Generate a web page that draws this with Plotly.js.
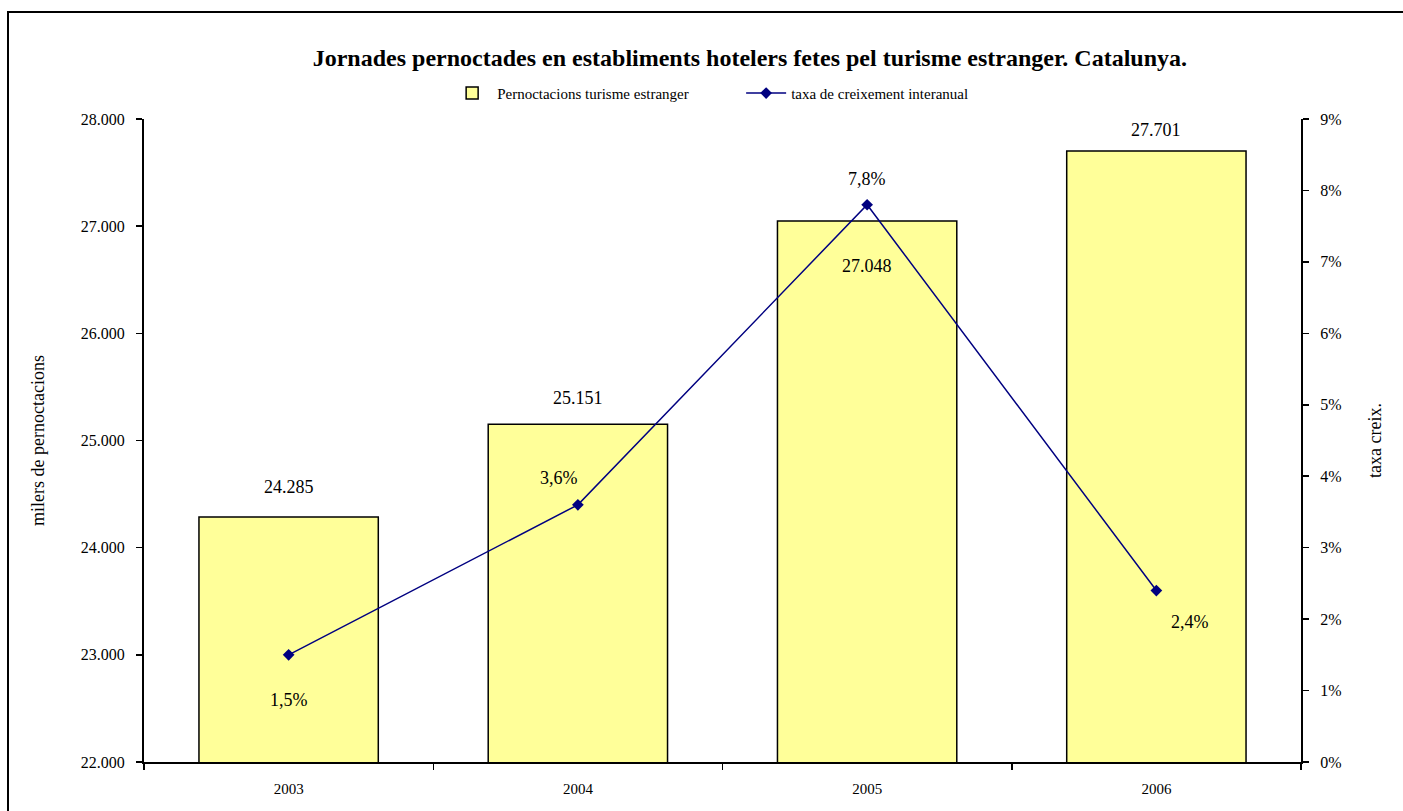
<!DOCTYPE html>
<html>
<head>
<meta charset="utf-8">
<script src="https://cdn.plot.ly/plotly-3.0.1.min.js"></script>
<style>
  html, body { margin: 0; padding: 0; background: #fff; }
  #wrap { position: relative; width: 1403px; height: 811px; overflow: hidden; }
  #chart { position: absolute; left: 0; top: 0; width: 1403px; height: 811px; }
  #frame { position: absolute; left: 7px; top: 11px; width: 1500px; height: 900px;
           border-left: 2px solid #000; border-top: 2px solid #000; pointer-events: none; }
</style>
</head>
<body>
<div id="wrap">
  <div id="chart"></div>
  <div id="frame"></div>
</div>
<script>
// ---- data ----
const years = ['2003', '2004', '2005', '2006'];
const pernoctacions = [24285, 25151, 27048, 27701];      // milers
const taxaCreixement = [0.015, 0.036, 0.078, 0.024];    // fraction

// ---- label placement (layout only) ----
const barLabelShift = [[0, 30], [0, 26], [0, -45], [0, 21]];
const lineLabelShift = [[0, -45], [-19, 27], [0, 26], [34, -31]];

const FONT = 'Liberation Serif, Times New Roman, serif';

function fmtThousands(v) {
  return String(v).replace(/\B(?=(\d{3})+(?!\d))/g, '.');
}
function fmtPct(v) {
  return (v * 100).toFixed(1).replace('.', ',') + '%';
}

const traces = [
  {
    type: 'bar',
    name: 'Pernoctacions turisme estranger',
    x: years,
    y: pernoctacions,
    width: 0.62,
    marker: { color: '#FFFF99', line: { color: '#000000', width: 1.5 } },
    hoverinfo: 'x+y'
  },
  {
    type: 'scatter',
    mode: 'lines+markers',
    name: 'taxa de creixement interanual',
    x: years,
    y: taxaCreixement,
    yaxis: 'y2',
    line: { color: '#000080', width: 1.5 },
    marker: { symbol: 'diamond', size: 9, color: '#000080' }
  }
];

const annotations = [];
years.forEach((yr, i) => {
  annotations.push({
    x: i, y: pernoctacions[i], xref: 'x', yref: 'y',
    text: fmtThousands(pernoctacions[i]), showarrow: false,
    xshift: barLabelShift[i][0], yshift: barLabelShift[i][1],
    font: { family: FONT, size: 18, color: '#000' }
  });
  annotations.push({
    x: i, y: taxaCreixement[i], xref: 'x', yref: 'y2',
    text: fmtPct(taxaCreixement[i]), showarrow: false,
    xshift: lineLabelShift[i][0], yshift: lineLabelShift[i][1],
    font: { family: FONT, size: 18, color: '#000' }
  });
});

const layout = {
  width: 1403, height: 811,
  paper_bgcolor: '#fff', plot_bgcolor: '#fff',
  separators: ',.',
  font: { family: FONT, size: 15, color: '#000' },
  margin: { l: 144, r: 102, t: 119, b: 49, pad: 0 },
  title: {
    text: '<b>Jornades pernoctades en establiments hotelers fetes pel turisme estranger. Catalunya.</b>',
    font: { family: FONT, size: 24, color: '#000' },
    x: 0.5345, xanchor: 'center', y: 0.929, yanchor: 'middle'
  },
  showlegend: true,
  legend: {
    orientation: 'h', x: 0.262, xanchor: 'left', y: 1.04, yanchor: 'middle',
    font: { family: FONT, size: 15 }, bgcolor: 'rgba(0,0,0,0)', traceorder: 'normal',
    itemwidth: 40, entrywidth: 239, entrywidthmode: 'pixels'
  },
  xaxis: {
    type: 'category',
    showline: true, linecolor: '#000', linewidth: 2,
    ticks: 'outside', ticklen: 6, tickcolor: '#000', tickwidth: 1.5,
    tickson: 'boundaries',
    showgrid: false, zeroline: false,
    tickfont: { family: FONT, size: 15 },
    ticklabelstandoff: 12,
    range: [-0.5, 3.5]
  },
  yaxis: {
    range: [22000, 28000], dtick: 1000, tickformat: ',d',
    showline: true, linecolor: '#000', linewidth: 2,
    ticks: 'outside', ticklen: 6, tickcolor: '#000', tickwidth: 1.5,
    ticklabelstandoff: 8,
    showgrid: false, zeroline: false,
    tickfont: { family: FONT, size: 16 },
    title: { text: 'milers de pernoctacions', font: { family: FONT, size: 18 }, standoff: 31 }
  },
  yaxis2: {
    overlaying: 'y', side: 'right',
    range: [0, 0.09], dtick: 0.01, tickformat: '.0%',
    showline: true, linecolor: '#000', linewidth: 2,
    ticks: 'outside', ticklen: 6, tickcolor: '#000', tickwidth: 1.5,
    ticklabelstandoff: 8,
    showgrid: false, zeroline: false,
    tickfont: { family: FONT, size: 16 },
    title: { text: 'taxa creix.', font: { family: FONT, size: 18 }, standoff: 28 }
  },
  annotations: annotations,
  bargap: 0.38
};

Plotly.newPlot('chart', traces, layout, { displayModeBar: false, staticPlot: true });
</script>
</body>
</html>
